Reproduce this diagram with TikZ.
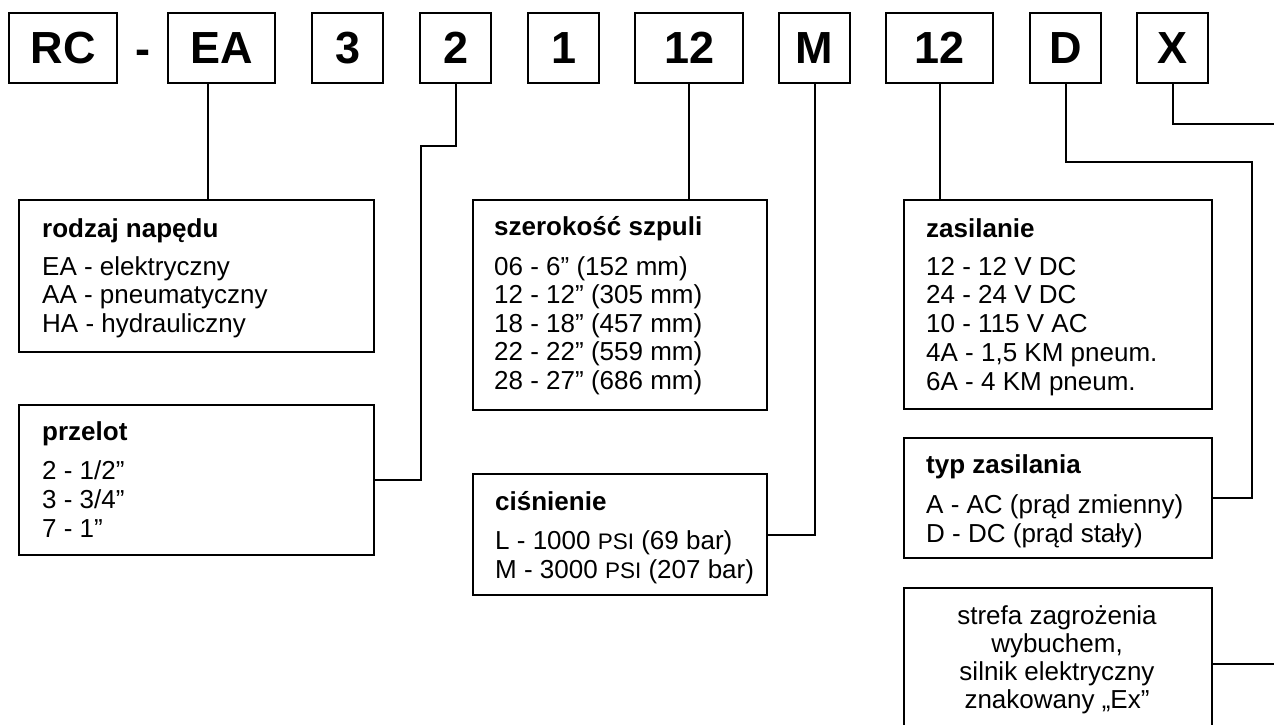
\documentclass[tikz,border=0pt]{standalone}
\usepackage{fontspec}
\setmainfont{Liberation Sans}
\begin{document}
\begin{tikzpicture}[x=1pt,y=-1pt,
  tbox/.style={draw, line width=2.4pt, inner sep=0pt, minimum height=70pt, anchor=north west,
    font=\fontsize{45}{45}\selectfont\bfseries},
  dbox/.style={draw, line width=2.4pt, inner sep=0pt, anchor=north west},
  ttl/.style={anchor=base west, inner sep=0pt, font=\fontsize{26}{28}\selectfont\bfseries},
  itm/.style={anchor=base west, inner sep=0pt, font=\fontsize{26}{28}\selectfont},
  ctr/.style={anchor=base, inner sep=0pt, font=\fontsize{26}{28}\selectfont},
  wire/.style={line width=2.4pt}]
\fill[white] (0,0) rectangle (1274,724);
\useasboundingbox (0,0) rectangle (1274,724);
\clip (0,0) rectangle (1274,724);
% top code boxes
\node[tbox, minimum width=108pt] (bRC) at (8,12) {RC};
\node[anchor=base, inner sep=0pt, font=\fontsize{45}{45}\selectfont\bfseries] (dash) at (143,64) {-};
\node[tbox, minimum width=107pt] (bEA) at (167,12) {EA};
\node[tbox, minimum width=71pt] (b3) at (311,12) {3};
\node[tbox, minimum width=71pt] (b2) at (419,12) {2};
\node[tbox, minimum width=71pt] (b1) at (527,12) {1};
\node[tbox, minimum width=108pt] (b12a) at (634,12) {12};
\node[tbox, minimum width=71pt] (bM) at (778,12) {M};
\node[tbox, minimum width=107pt] (b12b) at (885,12) {12};
\node[tbox, minimum width=71pt] (bD) at (1029,12) {D};
\node[tbox, minimum width=71pt] (bX) at (1136,12) {X};
% description boxes
\node[dbox, minimum width=355pt, minimum height=152pt] (rodzaj) at (18,199) {};
\node[dbox, minimum width=355pt, minimum height=150pt] (przelot) at (18,404) {};
\node[dbox, minimum width=294pt, minimum height=210pt] (szer) at (472,199) {};
\node[dbox, minimum width=294pt, minimum height=121pt] (cisn) at (472,473) {};
\node[dbox, minimum width=308pt, minimum height=209pt] (zasil) at (903,199) {};
\node[dbox, minimum width=308pt, minimum height=120pt] (typ) at (903,437) {};
\node[dbox, minimum width=308pt, minimum height=152pt] (strefa) at (903,587) {};
% texts
\node[ttl] (rodzaj-t) at (42,237) {rodzaj napędu};
\node[itm] (rodzaj-1) at (42,275) {EA - elektryczny};
\node[itm] (rodzaj-2) at (42,303.7) {AA - pneumatyczny};
\node[itm] (rodzaj-3) at (42,332.4) {HA - hydrauliczny};
\node[ttl] (przelot-t) at (42,440) {przelot};
\node[itm] (przelot-1) at (42,479) {2 - 1/2”};
\node[itm] (przelot-2) at (42,508) {3 - 3/4”};
\node[itm] (przelot-3) at (42,537) {7 - 1”};
\node[ttl] (szer-t) at (494,235) {szerokość szpuli};
\node[itm] (szer-1) at (494,275) {06 - 6” (152 mm)};
\node[itm] (szer-2) at (494,303.5) {12 - 12” (305 mm)};
\node[itm] (szer-3) at (494,332) {18 - 18” (457 mm)};
\node[itm] (szer-4) at (494,360.5) {22 - 22” (559 mm)};
\node[itm] (szer-5) at (494,389) {28 - 27” (686 mm)};
\node[ttl] (cisn-t) at (495,510) {ciśnienie};
\node[itm] (cisn-1) at (495,549) {L - 1000 {\fontsize{22.5}{28}\selectfont PSI} (69 bar)};
\node[itm] (cisn-2) at (495,578) {M - 3000 {\fontsize{22.5}{28}\selectfont PSI} (207 bar)};
\node[ttl] (zasil-t) at (926,237) {zasilanie};
\node[itm] (zasil-1) at (926,275) {12 - 12 V DC};
\node[itm] (zasil-2) at (926,303.7) {24 - 24 V DC};
\node[itm] (zasil-3) at (926,332.4) {10 - 115 V AC};
\node[itm] (zasil-4) at (926,361.1) {4A - 1,5 KM pneum.};
\node[itm] (zasil-5) at (926,390) {6A - 4 KM pneum.};
\node[ttl] (typ-t) at (926,473) {typ zasilania};
\node[itm] (typ-1) at (926,513) {A - AC (prąd zmienny)};
\node[itm] (typ-2) at (926,542) {D - DC (prąd stały)};
\node[ctr] (strefa-1) at (1057,624) {strefa zagrożenia};
\node[ctr] (strefa-2) at (1057,652) {wybuchem,};
\node[ctr] (strefa-3) at (1057,680) {silnik elektryczny};
\node[ctr] (strefa-4) at (1057,708) {znakowany „Ex”};
% connectors
\draw[wire] (bEA.south -| 208,0) -- (rodzaj.north -| 208,0);
\draw[wire] (b2.south) |- (421,146) |- (przelot.east);
\draw[wire] (b12a.south) -- (b12a.south |- szer.north);
\draw[wire] (bM.south) |- (cisn.east);
\draw[wire] (b12b.south) -- (b12b.south |- zasil.north);
\draw[wire] (bD.south) |- (1252,162) |- (typ.east);
\draw[wire] (bX.south) |- (1290,124) |- (strefa.east);
\end{tikzpicture}
\end{document}
